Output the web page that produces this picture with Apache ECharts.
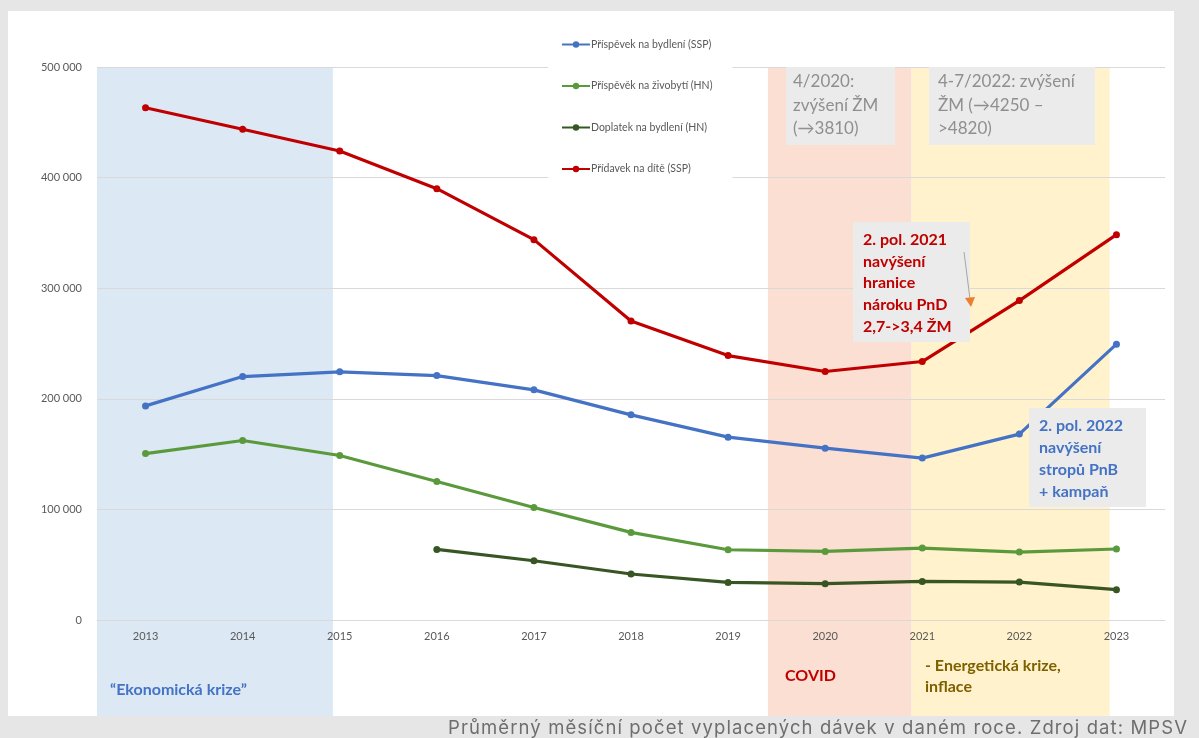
<!DOCTYPE html>
<html><head><meta charset="utf-8">
<script src="https://cdn.jsdelivr.net/npm/echarts@6/dist/echarts.min.js"></script>
<style>
html,body{margin:0;padding:0;background:#e6e6e6;}
#panel{position:absolute;left:8px;top:11px;width:1166px;height:705px;background:#fff;}
#c{position:absolute;left:0;top:0;width:1199px;height:738px;}
#cap{position:absolute;right:11px;top:716px;height:22px;line-height:22px;white-space:nowrap;
  font-family:Inter, Roboto, sans-serif;font-size:18.5px;letter-spacing:1.1px;color:#6e6e6e;}
</style>
</head><body><div id="panel"></div><div id="c"></div>
<div id="cap">Průměrný měsíční počet vyplacených dávek v daném roce. Zdroj dat: MPSV</div>
<script>
const years = ['2013','2014','2015','2016','2017','2018','2019','2020','2021','2022','2023'];
const prispevekBydleni = [193600, 220100, 224400, 221000, 208100, 185500, 165300, 155400, 146400, 168100, 249400];
const prispevekZivobyti = [150500, 162300, 148700, 125200, 101700, 79200, 63500, 62000, 65000, 61400, 64200];
const doplatekBydleni = [null, null, null, 63800, 53600, 41600, 34000, 32800, 34900, 34300, 27400];
const pridavekDite = [463200, 443700, 424100, 390000, 343900, 270400, 239100, 224700, 233700, 288800, 348400];
const seriesNames = ['Příspěvek na bydlení (SSP)', 'Příspěvěk na živobytí (HN)', 'Doplatek na bydlení (HN)', 'Přídavek na dítě (SSP)'];
const yMax = 500000, yStep = 100000;
// shaded periods in category-index units (0 = 2013)
const periodFrom = [-0.5, 6.41, 7.89];
const periodTo = [1.93, 7.89, 9.93];
const periodColors = ['#dce9f5', '#fadfd2', '#fff2cc'];

const FONT = 'Lato, "Open Sans", sans-serif';
const colors = ['#4472c4', '#5b9a3c', '#375623', '#c00000'];
const dataSets = [prispevekBydleni, prispevekZivobyti, doplatekBydleni, pridavekDite];

const chart = echarts.init(document.getElementById('c'), null, {renderer: 'canvas'});
const option = {
  backgroundColor: 'transparent',
  animation: false,
  grid: {left: 97, right: 34, top: 67, bottom: 118, containLabel: false},
  legend: {
    orient: 'vertical', left: 548, top: 32,
    padding: [7, 20, 7, 13], itemGap: 30.5, itemWidth: 28, itemHeight: 8,
    backgroundColor: '#fff', z: 6,
    textStyle: {fontFamily: FONT, fontSize: 10.5, color: '#595959', padding: [0, 0, 0, -4]},
    data: seriesNames
  },
  xAxis: {
    type: 'category', data: years, boundaryGap: true,
    axisLine: {lineStyle: {color: '#d9d9d9', width: 1}},
    axisTick: {show: false},
    axisLabel: {fontFamily: FONT, fontSize: 11, color: '#595959', margin: 11}
  },
  yAxis: {
    type: 'value', min: 0, max: yMax, interval: yStep,
    axisLine: {show: false}, axisTick: {show: false},
    splitLine: {lineStyle: {color: '#d9d9d9', width: 1}},
    axisLabel: {fontFamily: FONT, fontSize: 11, color: '#595959', margin: 15,
      formatter: v => v === 0 ? '0' : String(v).replace(/\B(?=(\d{3})+(?!\d))/g, ' ')}
  },
  series: dataSets.map((d, i) => ({
    name: seriesNames[i], type: 'line', data: d,
    symbol: 'circle', symbolSize: 7, z: 3,
    lineStyle: {width: 3.2, color: colors[i]},
    itemStyle: {color: colors[i]},
    connectNulls: false
  }))
};
chart.setOption(option);

const x0 = chart.convertToPixel({xAxisIndex: 0}, years[0]);
const x1 = chart.convertToPixel({xAxisIndex: 0}, years[1]);
const step = x1 - x0;
const yTop = chart.convertToPixel({yAxisIndex: 0}, yMax);
const panelBottom = 716;

const els = [];
periodFrom.forEach((f, i) => {
  const a = x0 + f * step, b = x0 + periodTo[i] * step;
  els.push({type: 'rect', z: -10, silent: true,
    shape: {x: a, y: yTop, width: b - a, height: panelBottom - yTop},
    style: {fill: periodColors[i]}});
});

function box(x, y, w, h, text, color, weight, size, lh, tx, ty) {
  els.push({type: 'rect', z: 20, shape: {x: x, y: y, width: w, height: h}, style: {fill: '#ebebeb'}});
  els.push({type: 'text', z: 21, x: tx, y: ty,
    style: {text: text, fill: color, font: weight + ' ' + size + 'px ' + FONT, lineHeight: lh, textVerticalAlign: 'top'}});
}
box(786, 67, 109, 78, '4/2020:\nzvýšení ŽM\n(→3810)', '#8f8f8f', 'normal', 17, 23.5, 793, 70);
box(929, 67, 166, 78, '4-7/2022: zvýšení\nŽM (→4250 –\n>4820)', '#8f8f8f', 'normal', 17, 23.5, 938, 70);
box(853, 222, 117, 120, '2. pol. 2021\nnavýšení\nhranice\nnároku PnD\n2,7->3,4 ŽM', '#c00000', 'bold', 16, 21.7, 863, 229);
box(1029, 408, 117, 99, '2. pol. 2022\nnavýšení\nstropů PnB\n+ kampaň', '#4472c4', 'bold', 16, 22, 1039, 415);
// arrow inside red box
els.push({type: 'line', z: 22, shape: {x1: 964, y1: 252, x2: 970, y2: 299}, style: {stroke: '#a6a6a6', lineWidth: 1}});
els.push({type: 'polygon', z: 22, shape: {points: [[965, 298], [975, 297], [971, 307]]}, style: {fill: '#ed7d31'}});

// period labels under axis
els.push({type: 'text', z: 21, x: 110, y: 690, style: {text: '“Ekonomická krize”', fill: '#4472c4', font: 'bold 16px ' + FONT, textVerticalAlign: 'middle'}});
els.push({type: 'text', z: 21, x: 785, y: 676, style: {text: 'COVID', fill: '#c00000', font: 'bold 16px ' + FONT, textVerticalAlign: 'middle'}});
els.push({type: 'text', z: 21, x: 925, y: 655, style: {text: '- Energetická krize,\ninflace', fill: '#7f6000', font: 'bold 16px ' + FONT, lineHeight: 21, textVerticalAlign: 'top'}});

chart.setOption({graphic: {elements: els}});
</script>
</body></html>
